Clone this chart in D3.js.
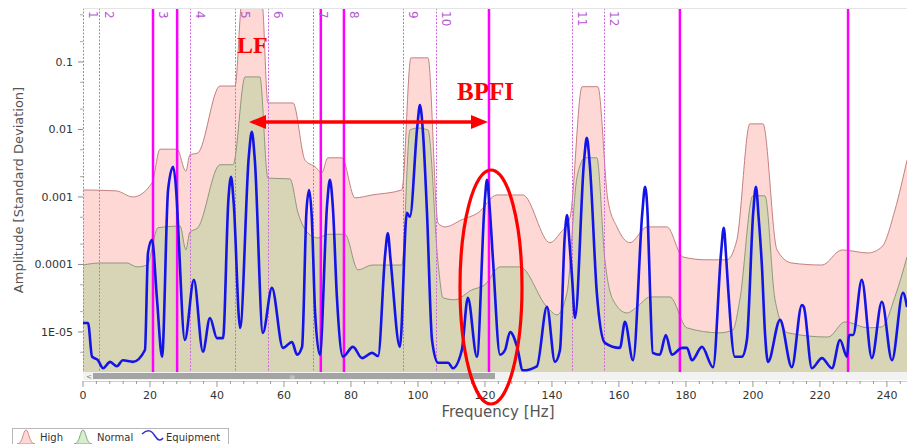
<!DOCTYPE html>
<html>
<head>
<meta charset="utf-8">
<script src="https://cdn.jsdelivr.net/npm/d3@7/dist/d3.min.js"></script>
<style>
  body { margin: 0; background: #fff; }
  svg { display: block; font-family: "DejaVu Sans", Verdana, sans-serif; }
</style>
</head>
<body>
<svg id="chart" width="907" height="444"></svg>
<script>
// ---- data (frequency in Hz, amplitude in standard deviation) ----
var highBand = [
  [0, 0.00127], [9.9, 0.00123], [14.9, 0.0010], [20.6, 0.00161], [23.0, 0.0051],
  [28.1, 0.0051], [30.7, 0.0024], [31.9, 0.0042], [34.3, 0.0045], [40.9, 0.044],
  [45.4, 0.044], [47.5, 0.8], [53.4, 0.8], [55.2, 0.0247], [62.7, 0.0247],
  [66.3, 0.0035], [69.3, 0.0028], [71.3, 0.00227], [73.1, 0.0038], [77.3, 0.0038],
  [81.2, 0.00097], [86.3, 0.00107], [95.2, 0.00127], [97.9, 0.115], [103.0, 0.115],
  [106.0, 0.00041], [108.1, 0.00036], [113.1, 0.00046], [117.9, 0.00058], [123.6, 0.00107],
  [131.3, 0.00107], [139.4, 0.00021], [142.4, 0.00029], [145.4, 0.0005], [149.0, 0.043],
  [153.7, 0.043], [156.7, 0.0009], [159.4, 0.00036], [163.3, 0.00021], [168.4, 0.00036],
  [174.3, 0.00036], [179.1, 0.000129], [186.3, 0.000117], [192.2, 0.000117], [195.2, 0.00023],
  [199.1, 0.0121], [203.0, 0.0121], [207.2, 0.000164], [211.6, 0.000105], [220.6, 0.000098],
  [226.6, 0.000164], [234.3, 0.000148], [238.5, 0.000182], [242.4, 0.00064], [246.0, 0.0035]
];

var normalBand = [
  [0, 0.000098], [5.1, 0.000105], [13.1, 0.000105], [16.1, 0.000092], [19.1, 0.000098],
  [22.4, 0.00035], [29.0, 0.00037], [30.7, 0.000165], [31.9, 0.00030], [34.3, 0.00035],
  [40.9, 0.0030], [44.8, 0.0030], [48.4, 0.060], [52.8, 0.060], [55.2, 0.0019],
  [61.8, 0.00185], [64.2, 0.00058], [67.2, 0.00029], [70.1, 0.000247], [73.1, 0.00028],
  [78.2, 0.00028], [82.1, 0.000083], [86.3, 0.000098], [95.2, 0.000098], [97.6, 0.0098],
  [100.0, 0.0105], [103.0, 0.0098], [106.0, 0.000105], [107.5, 0.000032], [111.0, 0.000030],
  [116.1, 0.000042], [120.0, 0.000050], [124.5, 0.000092], [130.4, 0.000092], [138.5, 0.0000235],
  [141.5, 0.0000179], [144.5, 0.000038], [147.5, 0.00198], [149.9, 0.0038], [153.4, 0.0038],
  [155.8, 0.000117], [158.2, 0.000030], [162.4, 0.0000191], [165.4, 0.0000235], [169.3, 0.000033],
  [175.2, 0.000033], [180.3, 0.0000115], [190.1, 0.0000097], [194.0, 0.0000107], [196.1, 0.000030],
  [200.0, 0.00104], [203.6, 0.00104], [206.6, 0.000030], [210.4, 0.0000097], [222.4, 0.0000084],
  [227.5, 0.0000141], [234.3, 0.0000115], [238.5, 0.0000119], [242.4, 0.000033], [246.0, 0.000129]
];

var equipment = [
  [0, 0.0000136], [1.5, 0.0000136], [2.7, 0.0000043], [4.5, 0.0000038], [6.0, 0.0000029],
  [8.1, 0.0000036], [10.1, 0.0000031], [11.9, 0.0000038], [14.9, 0.0000036], [18.5, 0.0000054],
  [19.4, 0.000148], [20.6, 0.000231], [22.1, 0.000030], [23.6, 0.0000043], [25.4, 0.00127],
  [26.9, 0.0028], [28.0, 0.0009], [28.6, 0.00022], [30.4, 0.0000076], [33.1, 0.000059], [35.8, 0.0000051],
  [37.9, 0.0000161], [40.0, 0.0000081], [41.8, 0.0000081], [43.4, 0.0009], [44.2, 0.00198], [45.0, 0.0008],
  [46.9, 0.0000115], [49.5, 0.004], [50.4, 0.0092], [51.3, 0.0035],
  [53.7, 0.0000097], [56.4, 0.000045], [59.7, 0.0000058], [62.4, 0.0000071],
  [63.9, 0.0000046], [65.4, 0.0000060], [66.7, 0.0006], [67.5, 0.00127], [68.3, 0.0005],
  [69.3, 0.0000191], [70.7, 0.0000046],
  [72.9, 0.0008], [73.7, 0.00179], [74.6, 0.0007], [75.8, 0.000033], [77.6, 0.0000043],
  [80.6, 0.0000060], [83.3, 0.0000041],
  [86.3, 0.0000049], [88.1, 0.0000044], [90.2, 0.00014], [91.0, 0.00029], [91.8, 0.00012],
  [94.6, 0.0000060], [96.7, 0.00058],
  [97.6, 0.00051], [99.8, 0.011], [100.6, 0.023], [101.5, 0.009], [102.7, 0.00058],
  [104.2, 0.0000076], [106.0, 0.0000035],
  [109.0, 0.0000035], [110.4, 0.0000029], [113.1, 0.0000054], [114.9, 0.000032], [117.6, 0.0000043],
  [119.9, 0.0008], [120.6, 0.00179], [121.4, 0.0007], [122.4, 0.000117], [124.5, 0.0000046],
  [126.0, 0.0000054], [127.5, 0.0000100],
  [129.6, 0.0000060], [131.3, 0.0000027], [135.5, 0.0000031], [138.5, 0.0000235], [140.9, 0.0000036],
  [142.4, 0.0000054], [143.8, 0.00025], [144.5, 0.00054], [145.2, 0.00022], [146.0, 0.000065],
  [146.9, 0.0000161], [149.6, 0.0035], [150.4, 0.0075], [151.3, 0.003],
  [153.4, 0.000038], [155.8, 0.0000069], [160.3, 0.0000058], [161.8, 0.0000141], [164.2, 0.0000038],
  [167.0, 0.0006], [167.8, 0.00141], [168.6, 0.0005], [169.3, 0.000038], [170.1, 0.0000049],
  [172.2, 0.0000046], [174.0, 0.0000090],
  [175.8, 0.0000046], [178.8, 0.0000058], [180.3, 0.0000058], [181.8, 0.0000038], [184.8, 0.0000060],
  [188.1, 0.0000030], [190.5, 0.00015], [191.3, 0.00035], [192.0, 0.00013], [192.5, 0.000053],
  [194.6, 0.0000043], [196.7, 0.0000043],
  [198.2, 0.0000076], [200.1, 0.0006], [200.9, 0.00141], [201.7, 0.0005], [202.7, 0.000092],
  [203.6, 0.0000097], [204.5, 0.0000036],
  [208.1, 0.0000151], [211.6, 0.0000030], [214.6, 0.000025], [215.2, 0.0000235], [217.6, 0.0000029],
  [220.6, 0.0000041], [223.6, 0.0000029], [226.0, 0.0000076], [228.1, 0.0000043], [228.7, 0.0000090],
  [229.9, 0.0000090], [232.5, 0.000059], [235.5, 0.0000041], [238.5, 0.000028], [241.5, 0.0000038],
  [244.8, 0.000038], [246.0, 0.0000235]
];

// band boundaries (dotted, numbered) and fault frequencies (solid)
var bandLines = [0, 4.8, 20.9, 31.9, 45.4, 55.2, 68.7, 77.9, 95.5, 105.4, 146.0, 155.5];
var bandLabels = ["1", "2", "3", "4", "5", "6", "7", "8", "9", "10", "11", "12"];
var faultLines = [20.9, 28.1, 71.0, 77.9, 121.2, 178.2, 228.4];

var yTicks = [0.1, 0.01, 0.001, 0.0001, 0.00001];
var yTickLabels = ["0.1", "0.01", "0.001", "0.0001", "1E-05"];
var xTicks = d3.range(0, 241, 20);

var legendItems = ["High", "Normal", "Equipment"];

// ---- layout ----  (note: "top" is taken by window.top, so prefix everything)
var plotL = 83, plotR = 907, plotT = 8, plotB = 372;

var svg = d3.select('#chart');

var x = d3.scaleLinear().domain([0, 246]).range([plotL, plotR]);
var y = d3.scaleLog().domain([2.55e-6, 0.63]).range([plotB, plotT]);

svg.append('defs').append('clipPath').attr('id', 'plotclip')
  .append('rect').attr('x', plotL).attr('y', plotT)
  .attr('width', plotR - plotL).attr('height', plotB - plotT);

var plot = svg.append('g').attr('clip-path', 'url(#plotclip)');

var area = d3.area()
  .x(function(d) { return x(d[0]); })
  .y0(plotB)
  .y1(function(d) { return y(d[1]); })
  .curve(d3.curveMonotoneX);

var line = d3.line()
  .x(function(d) { return x(d[0]); })
  .y(function(d) { return y(d[1]); })
  .curve(d3.curveMonotoneX);

// high band
plot.append('path').datum(highBand).attr('d', area).attr('fill', '#fdd8d5');
plot.append('path').datum(highBand).attr('d', line)
  .attr('fill', 'none').attr('stroke', '#c48080').attr('stroke-width', 1);

// normal band
plot.append('path').datum(normalBand).attr('d', area).attr('fill', '#d8d5b7');
plot.append('path').datum(normalBand).attr('d', line)
  .attr('fill', 'none').attr('stroke', '#8e9879').attr('stroke-width', 1);

// dotted band lines
plot.selectAll('.band').data(bandLines).enter().append('line')
  .attr('class', 'band')
  .attr('x1', function(d) { return Math.round(x(d)) + 0.5; })
  .attr('x2', function(d) { return Math.round(x(d)) + 0.5; })
  .attr('y1', plotT).attr('y2', plotB)
  .attr('stroke', '#cf6ade').attr('stroke-width', 1)
  .attr('stroke-dasharray', '2,1.5');

// solid fault lines
plot.selectAll('.fault').data(faultLines).enter().append('line')
  .attr('class', 'fault')
  .attr('x1', function(d) { return x(d); })
  .attr('x2', function(d) { return x(d); })
  .attr('y1', plotT).attr('y2', plotB)
  .attr('stroke', '#ff00ff').attr('stroke-width', 2.5);

// equipment spectrum
plot.append('path').datum(equipment).attr('d', line)
  .attr('fill', 'none').attr('stroke', '#1414e6').attr('stroke-width', 2.6)
  .attr('stroke-linejoin', 'round');

// band numbers
svg.selectAll('.bandlbl').data(bandLines).enter().append('text')
  .attr('class', 'bandlbl')
  .attr('transform', function(d) { return 'translate(' + (x(d) + 6) + ',' + 11 + ') rotate(90)'; })
  .attr('font-size', 12)
  .attr('fill', '#b45ad0')
  .text(function(d, i) { return bandLabels[i]; });

// top frame line
svg.append('line').attr('x1', plotL).attr('x2', plotR).attr('y1', plotT + 0.5).attr('y2', plotT + 0.5)
  .attr('stroke', '#e4e4e4');

// ---- y axis ----
var yAxis = svg.append('g');
yAxis.selectAll('.ytick').data(yTicks).enter().append('line')
  .attr('x1', plotL - 5).attr('x2', plotL)
  .attr('y1', function(d) { return y(d); }).attr('y2', function(d) { return y(d); })
  .attr('stroke', '#888');
var minorY = [];
[0.1, 0.01, 0.001, 0.0001, 0.00001, 0.000001].forEach(function(dec) {
  [2, 5].forEach(function(m) { minorY.push(dec * m); });
});
yAxis.selectAll('.yminor').data(minorY.filter(function(d) { return y(d) > plotT && y(d) < plotB; }))
  .enter().append('line')
  .attr('x1', plotL - 3).attr('x2', plotL)
  .attr('y1', function(d) { return y(d); }).attr('y2', function(d) { return y(d); })
  .attr('stroke', '#aaa');
yAxis.selectAll('.ylbl').data(yTicks).enter().append('text')
  .attr('x', plotL - 10)
  .attr('y', function(d) { return y(d) + 4; })
  .attr('text-anchor', 'end')
  .attr('font-size', 11)
  .attr('fill', '#333')
  .text(function(d, i) { return yTickLabels[i]; });

svg.append('text')
  .attr('transform', 'translate(23,' + 190 + ') rotate(-90)')
  .attr('text-anchor', 'middle')
  .attr('font-size', 13)
  .attr('fill', '#555')
  .text('Amplitude [Standard Deviation]');

// ---- scrollbar ----
svg.append('rect').attr('x', plotL).attr('y', 372).attr('width', plotR - plotL).attr('height', 8)
  .attr('fill', '#f2f2f2');
svg.append('rect').attr('x', 93).attr('y', 373).attr('width', 402).attr('height', 6)
  .attr('fill', '#a4a4a4');
svg.append('text').attr('x', 86).attr('y', 379).attr('font-size', 7).attr('fill', '#777').text('<');
svg.append('text').attr('x', 290).attr('y', 378.5).attr('font-size', 5).attr('fill', '#e8e8e8').text('III');

// ---- x axis ----
var xAxisY = 381;
svg.append('line').attr('x1', plotL).attr('x2', plotR).attr('y1', xAxisY + 0.5).attr('y2', xAxisY + 0.5)
  .attr('stroke', '#cfcfcf');
svg.selectAll('.xminor').data(d3.range(0, 247, 4)).enter().append('line')
  .attr('x1', function(d) { return x(d); }).attr('x2', function(d) { return x(d); })
  .attr('y1', xAxisY).attr('y2', function(d) { return d % 20 === 0 ? xAxisY + 6 : xAxisY + 3; })
  .attr('stroke', '#999');
svg.selectAll('.xlbl').data(xTicks).enter().append('text')
  .attr('x', function(d) { return x(d); })
  .attr('y', 399)
  .attr('text-anchor', 'middle')
  .attr('font-size', 11)
  .attr('fill', '#333')
  .text(function(d) { return d; });

svg.append('text')
  .attr('x', 498).attr('y', 417)
  .attr('text-anchor', 'middle')
  .attr('font-size', 15)
  .attr('fill', '#555')
  .text('Frequency [Hz]');

// ---- legend ----
var legend = svg.append('g');
legend.append('rect').attr('x', 12.5).attr('y', 428.5).attr('width', 216).attr('height', 20)
  .attr('fill', '#fff').attr('stroke', '#b8b8b8');
function bell(x0) {
  return 'M' + x0 + ',444 C' + (x0 + 6) + ',444 ' + (x0 + 6) + ',430 ' + (x0 + 9) + ',430 ' +
    'C' + (x0 + 12) + ',430 ' + (x0 + 12) + ',444 ' + (x0 + 18) + ',444 Z';
}
legend.append('path').attr('d', bell(17)).attr('fill', '#fdd8d5').attr('stroke', '#d08a88');
legend.append('path').attr('d', bell(74)).attr('fill', '#d8ecd0').attr('stroke', '#7cae78');
legend.append('path').attr('d', 'M142,434 C148,428 152,431 155,436 C158,441 161,441 163,438')
  .attr('fill', 'none').attr('stroke', '#3030d0').attr('stroke-width', 1.5);
var legendX = [40, 97, 166];
legend.selectAll('.legtxt').data(legendItems).enter().append('text')
  .attr('x', function(d, i) { return legendX[i]; })
  .attr('y', 441)
  .attr('font-size', 10)
  .attr('fill', '#333')
  .text(function(d) { return d; });

// ---- red annotations ----
var red = '#ff0000';
svg.append('text').attr('x', 237).attr('y', 53)
  .attr('font-family', '"Liberation Serif", "Times New Roman", serif')
  .attr('font-weight', 'bold').attr('font-size', 24).attr('fill', red).text('LF');
svg.append('text').attr('x', 457).attr('y', 100)
  .attr('font-family', '"Liberation Serif", "Times New Roman", serif')
  .attr('font-weight', 'bold').attr('font-size', 25).attr('fill', red).text('BPFI');

var arrowY = 122, ax0 = 249, ax1 = 488;
svg.append('line').attr('x1', ax0 + 12).attr('x2', ax1 - 12).attr('y1', arrowY).attr('y2', arrowY)
  .attr('stroke', red).attr('stroke-width', 3.5);
svg.append('path').attr('d', 'M' + ax0 + ',' + arrowY + ' L' + (ax0 + 17) + ',' + (arrowY - 7) +
  ' L' + (ax0 + 17) + ',' + (arrowY + 7) + ' Z').attr('fill', red);
svg.append('path').attr('d', 'M' + ax1 + ',' + arrowY + ' L' + (ax1 - 17) + ',' + (arrowY - 7) +
  ' L' + (ax1 - 17) + ',' + (arrowY + 7) + ' Z').attr('fill', red);

svg.append('ellipse').attr('cx', 491).attr('cy', 287).attr('rx', 31).attr('ry', 117)
  .attr('fill', 'none').attr('stroke', red).attr('stroke-width', 3.2);
</script>
</body>
</html>
